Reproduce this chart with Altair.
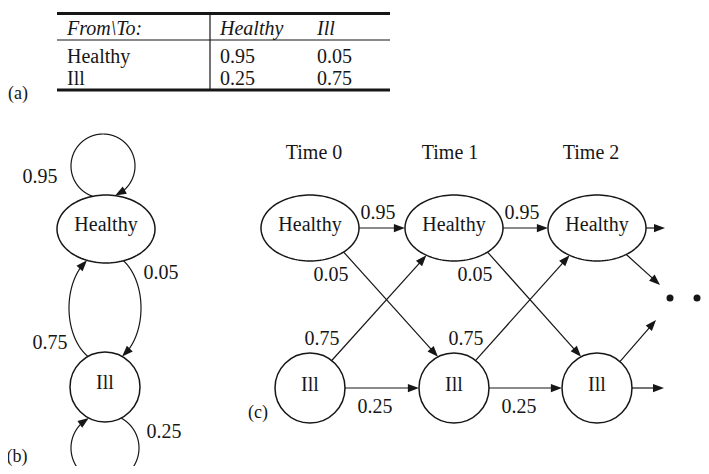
import math
import altair as alt
import pandas as pd

# ---------------- content ----------------
states = ["Healthy", "Ill"]
table_corner = "From\\To:"
table_col_labels = ["Healthy", "Ill"]
table_row_labels = ["Healthy", "Ill"]
table_values = [["0.95", "0.05"], ["0.25", "0.75"]]

# panel (b): (from, to, probability label) as printed in the figure
b_transitions = [("Healthy", "Healthy", "0.95"), ("Healthy", "Ill", "0.05"),
                 ("Ill", "Healthy", "0.75"), ("Ill", "Ill", "0.25")]
# panel (c)
time_labels = ["Time 0", "Time 1", "Time 2"]
c_transitions = [("Healthy", "Healthy", "0.95"), ("Healthy", "Ill", "0.05"),
                 ("Ill", "Healthy", "0.75"), ("Ill", "Ill", "0.25")]
panel_tags = ["(a)", "(b)", "(c)"]

# ---------------- layout (pixel positions of the figure) ----------------
W, H, M = 709, 474, 8
FONT = "Liberation Serif"
INK = "#161616"
FS = 20

# table (a)
tab_left, tab_right, tab_div = 57, 390, 210
tab_rule_y = [13.5, 40, 90]
tab_rule_w = [3, 1.2, 3]
tab_text_x = [67, 220, 317]
tab_base_y = [35, 63, 85]
tag_pos = [(8, 99), (17, 457), (258, 413)]

# panel (b) nodes: (cx, cy, kind, a, b)
b_nodes = {"Healthy": (106, 229, "ellipse", 49, 34), "Ill": (105, 387, "circle", 35, 35)}
# curve carriers for each transition: (cx, cy, rx, ry, t0, t1) in degrees
b_curves = [(103, 166, 32, 32, 90, 450), (105, 308, 36, 55, -90, 90),
            (105, 308, 36, 55, 90, 270), (105, 448, 34, 34, -90, 270)]
b_label_pos = [(40, 177), (161, 273), (50, 343), (164, 432)]

# panel (c)
c_node_x = [310, 454, 597]
c_state_y = {"Healthy": 228, "Ill": 388}
c_shape = {"Healthy": ("ellipse", 49, 33), "Ill": ("circle", 35, 35)}
time_label_x = [314, 450, 591]
time_label_y = 153
c_label_offsets = [(68, -15), (21, 47), (12, -49), (65, 19)]
c_port_shift = [0, 12, -3, 0]
stub_tips = [("Healthy", 68, 0), ("Healthy", 63, 57), ("Ill", 59, -68), ("Ill", 67, 0)]
dots_x = [670, 697]
dots_y = 298

ARROW_LEN = 11


def c_node(i, s):
    kind, a, b = c_shape[s]
    return (c_node_x[i], c_state_y[s], kind, a, b)


def inside(node, px, py):
    cx, cy, kind, a, b = node
    if kind == "ellipse":
        return ((px - cx) / a) ** 2 + ((py - cy) / b) ** 2 < 1
    return (px - cx) ** 2 + (py - cy) ** 2 < a * a


rules, arrows, curves, texts_c, texts_l, texts_i, ells, circs = [], [], [], [], [], [], [], []


def add_arrow(x, y, dx, dy):
    ang = math.degrees(math.atan2(dy, dx)) % 360
    arrows.append({"x": x, "y": y, "ang": ang})


def add_edge(x0, y0, x1, y1, w=1.2):
    d = math.hypot(x1 - x0, y1 - y0)
    ux, uy = (x1 - x0) / d, (y1 - y0) / d
    rules.append({"x": x0, "y": y0, "x2": x1 - ux * (ARROW_LEN - 3), "y2": y1 - uy * (ARROW_LEN - 3), "w": w})
    add_arrow(x1, y1, ux, uy)


def clipped_segment(A, P, B, Q):
    """segment P->Q, trimmed to the part outside node A (around P) and node B (around Q)"""
    d = math.hypot(Q[0] - P[0], Q[1] - P[1])
    ux, uy = (Q[0] - P[0]) / d, (Q[1] - P[1]) / d
    s = 0.0
    while inside(A, P[0] + ux * s, P[1] + uy * s):
        s += 0.1
    e = d
    if B is not None:
        while inside(B, P[0] + ux * e, P[1] + uy * e):
            e -= 0.1
    return (P[0] + ux * s, P[1] + uy * s), (P[0] + ux * e, P[1] + uy * e)


# ---- table (a)
for y, w in zip(tab_rule_y, tab_rule_w):
    rules.append({"x": tab_left, "y": y, "x2": tab_right, "y2": y, "w": w})
rules.append({"x": tab_div, "y": tab_rule_y[0], "x2": tab_div, "y2": tab_rule_y[-1], "w": 1.2})
texts_i.append({"x": tab_text_x[0], "y": tab_base_y[0], "t": table_corner, "fs": FS})
for j, lab in enumerate(table_col_labels):
    texts_i.append({"x": tab_text_x[j + 1], "y": tab_base_y[0], "t": lab, "fs": FS})
for i, lab in enumerate(table_row_labels):
    texts_l.append({"x": tab_text_x[0], "y": tab_base_y[i + 1], "t": lab, "fs": FS})
    for j, v in enumerate(table_values[i]):
        texts_l.append({"x": tab_text_x[j + 1], "y": tab_base_y[i + 1], "t": v, "fs": FS})
texts_l.append({"x": tag_pos[0][0], "y": tag_pos[0][1], "t": panel_tags[0], "fs": 18})

# ---- panel (b)
for s in states:
    cx, cy, kind, a, b = b_nodes[s]
    (ells if kind == "ellipse" else circs).append({"x": cx, "y": cy, "panel": "b"})
    texts_c.append({"x": cx, "y": cy - 4, "t": s, "fs": FS})
for k, ((src, dst, lab), (cx, cy, rx, ry, t0, t1), (lx, ly)) in enumerate(zip(b_transitions, b_curves, b_label_pos)):
    S, D = b_nodes[src], b_nodes[dst]
    n = 1440
    pts = []
    for i in range(n + 1):
        t = math.radians(t0 + (t1 - t0) * i / n)
        pts.append((cx + rx * math.cos(t), cy + ry * math.sin(t)))
    i0 = 0
    while i0 < len(pts) and inside(S, *pts[i0]):
        i0 += 1
    i1 = len(pts) - 1
    while i1 > i0 and inside(D, *pts[i1]):
        i1 -= 1
    seg = pts[i0:i1 + 1]
    tip = seg[-1]
    j = len(seg) - 1
    while j > 0 and math.hypot(seg[j][0] - tip[0], seg[j][1] - tip[1]) < ARROW_LEN - 3:
        j -= 1
    add_arrow(tip[0], tip[1], tip[0] - seg[j][0], tip[1] - seg[j][1])
    for q, (px, py) in enumerate(seg[:j + 1]):
        curves.append({"id": f"b{k}", "k": q, "x": px, "y": py})
    texts_c.append({"x": lx, "y": ly, "t": lab, "fs": FS})
texts_c.append({"x": tag_pos[1][0], "y": tag_pos[1][1], "t": panel_tags[1], "fs": 18})

# ---- panel (c)
for i, tl in enumerate(time_labels):
    texts_c.append({"x": time_label_x[i], "y": time_label_y, "t": tl, "fs": FS})
    for s in states:
        cx, cy, kind, a, b = c_node(i, s)
        (ells if kind == "ellipse" else circs).append({"x": cx, "y": cy, "panel": "c"})
        texts_c.append({"x": cx, "y": cy - 3, "t": s, "fs": FS})
for i in range(len(time_labels) - 1):
    for (src, dst, lab), (ox, oy), sh in zip(c_transitions, c_label_offsets, c_port_shift):
        A, B = c_node(i, src), c_node(i + 1, dst)
        s0, e0 = clipped_segment(A, (A[0] + sh, A[1]), B, (B[0] + sh, B[1]))
        add_edge(s0[0], s0[1], e0[0], e0[1])
        texts_c.append({"x": A[0] + ox, "y": A[1] + oy, "t": lab, "fs": FS})
last = len(time_labels) - 1
for s, ox, oy in stub_tips:
    A = c_node(last, s)
    s0, e0 = clipped_segment(A, (A[0], A[1]), None, (A[0] + ox, A[1] + oy))
    add_edge(s0[0], s0[1], e0[0], e0[1])
dots = [{"x": x, "y": dots_y} for x in dots_x]
texts_c.append({"x": tag_pos[2][0], "y": tag_pos[2][1], "t": panel_tags[2], "fs": 18})

# ---------------- chart ----------------
xs = alt.Scale(domain=[M, W - M], nice=False, zero=False)
ys = alt.Scale(domain=[M, H - M], nice=False, zero=False, reverse=True)


def X(f="x"):
    return alt.X(f"{f}:Q", scale=xs, axis=None)


def Y(f="y"):
    return alt.Y(f"{f}:Q", scale=ys, axis=None)


ratio_b = b_nodes["Healthy"][4] / b_nodes["Healthy"][3]
ratio_c = c_shape["Healthy"][2] / c_shape["Healthy"][1]


def ellipse_path(ratio, n=120):
    pts = [f"{math.cos(2*math.pi*i/n):.4f},{ratio*math.sin(2*math.pi*i/n):.4f}" for i in range(n)]
    return "M" + "L".join(pts) + "Z"


arrow_shape = "M0,0L-2,-0.75L-2,0.75Z"

rule_layer = alt.Chart(pd.DataFrame(rules)).mark_rule(color=INK).encode(
    x=X(), y=Y(), x2=alt.X2("x2"), y2=alt.Y2("y2"), strokeWidth=alt.StrokeWidth("w:Q", scale=None))

curve_layer = alt.Chart(pd.DataFrame(curves)).mark_line(color=INK, strokeWidth=1.2).encode(
    x=X(), y=Y(), detail="id:N", order="k:Q")

ell_df = pd.DataFrame(ells)
ell_b = alt.Chart(ell_df[ell_df.panel == "b"]).mark_point(
    shape=ellipse_path(ratio_b), size=4 * b_nodes["Healthy"][3] ** 2, filled=False,
    color=INK, strokeWidth=1.5, opacity=1).encode(x=X(), y=Y())
ell_c = alt.Chart(ell_df[ell_df.panel == "c"]).mark_point(
    shape=ellipse_path(ratio_c), size=4 * c_shape["Healthy"][1] ** 2, filled=False,
    color=INK, strokeWidth=1.5, opacity=1).encode(x=X(), y=Y())
circ_layer = alt.Chart(pd.DataFrame(circs)).mark_point(
    shape="circle", size=4 * c_shape["Ill"][1] ** 2, filled=False,
    color=INK, strokeWidth=1.5, opacity=1).encode(x=X(), y=Y())

arrow_layer = alt.Chart(pd.DataFrame(arrows)).mark_point(
    shape=arrow_shape, size=ARROW_LEN ** 2, filled=True, color=INK, opacity=1,
    strokeWidth=0).encode(x=X(), y=Y(), angle=alt.Angle("ang:Q", scale=None))

dot_layer = alt.Chart(pd.DataFrame(dots)).mark_point(
    shape="circle", size=49, filled=True, color=INK, opacity=1).encode(x=X(), y=Y())

text_c = alt.Chart(pd.DataFrame(texts_c)).mark_text(
    font=FONT, color=INK, align="center", baseline="middle").encode(
    x=X(), y=Y(), text="t:N", size=alt.Size("fs:Q", scale=None))
text_l = alt.Chart(pd.DataFrame(texts_l)).mark_text(
    font=FONT, color=INK, align="left", baseline="alphabetic").encode(
    x=X(), y=Y(), text="t:N", size=alt.Size("fs:Q", scale=None))
text_i = alt.Chart(pd.DataFrame(texts_i)).mark_text(
    font=FONT, color=INK, align="left", baseline="alphabetic", fontStyle="italic").encode(
    x=X(), y=Y(), text="t:N", size=alt.Size("fs:Q", scale=None))

chart = alt.layer(
    rule_layer, curve_layer, ell_b, ell_c, circ_layer, arrow_layer, dot_layer, text_c, text_l, text_i
).properties(
    width=W - 2 * M, height=H - 2 * M, padding=0,
    autosize=alt.AutoSizeParams(type="none"), background="white"
).configure_view(strokeWidth=0)

chart.save("out.html", embed_options={"renderer": "svg", "actions": False})
